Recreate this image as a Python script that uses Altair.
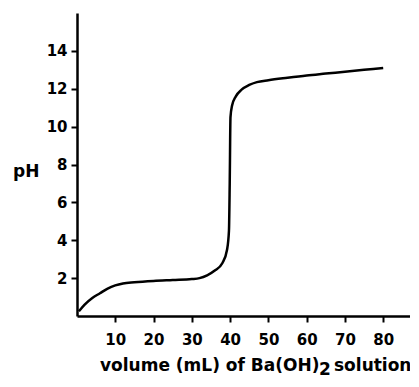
import altair as alt
import pandas as pd

# Titration curve
volume_ml = [0.5, 2, 4, 6, 8, 10, 12, 15, 20, 25, 30, 32, 34, 36, 38, 39.2,
             39.7, 39.9, 40.1, 40.5, 41.5, 43, 45, 47, 50, 55, 60, 65, 70, 75, 80]
ph_values = [0.25, 0.6, 0.95, 1.2, 1.45, 1.62, 1.72, 1.78, 1.85, 1.9, 1.95, 2.0,
             2.15, 2.4, 2.8, 3.5, 4.5, 7.0, 10.5, 11.1, 11.6, 11.95, 12.2, 12.35,
             12.45, 12.58, 12.7, 12.8, 12.9, 13.0, 13.1]

x_ticks = [10, 20, 30, 40, 50, 60, 70, 80]
y_ticks = [2, 4, 6, 8, 10, 12, 14]

title_main = "volume (mL) of Ba(OH)"
title_sub = "2"
title_tail = "solution"
y_title = "pH"

df = pd.DataFrame({"volume": volume_ml, "pH": ph_values})

W, H = 333, 303
FONT = "DejaVu Sans"

line = alt.Chart(df).mark_line(color="black", strokeWidth=2.5, interpolate="monotone").encode(
    x=alt.X("volume:Q", scale=alt.Scale(domain=[0, 87], nice=False),
            axis=alt.Axis(values=x_ticks, title=None, labelPadding=10)),
    y=alt.Y("pH:Q", scale=alt.Scale(domain=[0, 16], nice=False),
            axis=alt.Axis(values=y_ticks, title=None, labelPadding=4)),
)

one = alt.Data(values=[{}])

def txt(s, x, y, size):
    return alt.Chart(one).mark_text(text=s, align="left", baseline="alphabetic",
                                    font=FONT, fontWeight="bold", fontSize=size,
                                    color="black").encode(
        x=alt.value(x), y=alt.value(y))

t1 = txt(title_main, 23, 358, 17)
t2 = txt(title_sub, 242, 362, 17)
t3 = txt(title_tail, 257, 358, 17)
t4 = txt(y_title, -64, 164, 17)

chart = alt.layer(line, t1, t2, t3, t4).properties(
    width=W, height=H,
    autosize=alt.AutoSizeParams(type="none"),
    padding={"left": 69, "top": 5, "right": 0, "bottom": 63},
).configure_view(stroke=None).configure_axis(
    grid=False, domainColor="black", domainWidth=2.5, tickColor="black",
    tickWidth=2, tickSize=6, labelColor="black", labelFont=FONT,
    labelFontWeight="bold", labelFontSize=15,
)

chart.save("out.html", embed_options={"renderer": "svg", "actions": False})
